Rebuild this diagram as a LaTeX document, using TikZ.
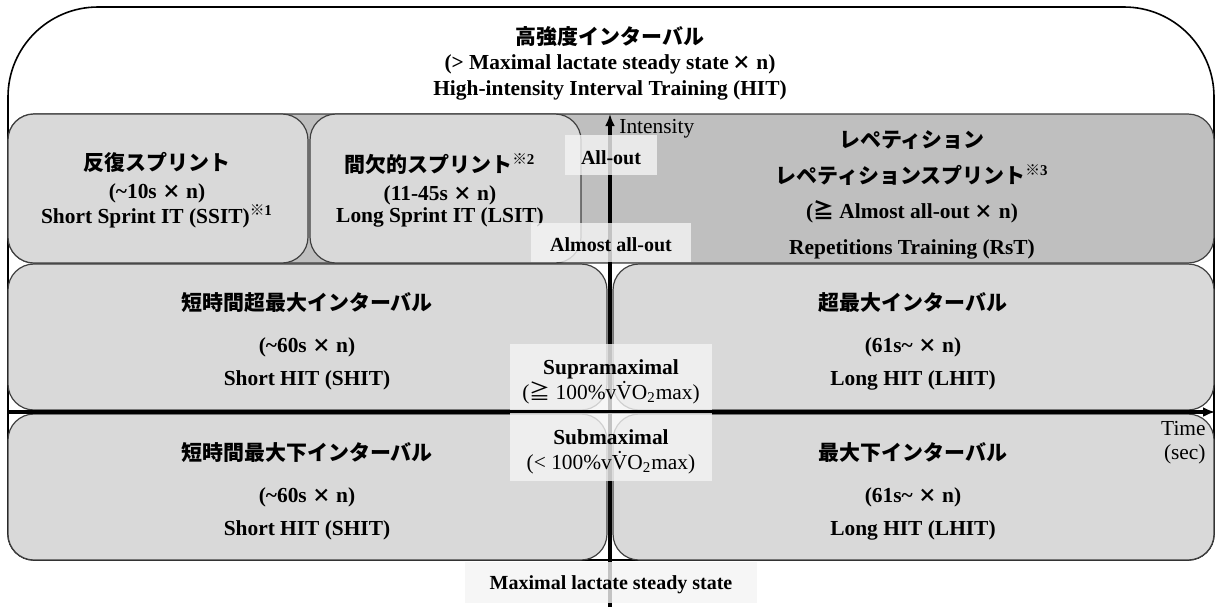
\documentclass[tikz,border=0pt]{standalone}
\usepackage{fontspec}
\setmainfont{Liberation Serif}
\newfontfamily\jp{Noto Sans CJK JP}[Scale=0.98]
\usepackage{xcolor}
\usepackage{tikz}
\usetikzlibrary{arrows.meta}

\definecolor{boxlight}{HTML}{D9D9D9}
\definecolor{boxdark}{HTML}{BFBFBF}
\definecolor{tagfill}{HTML}{F4F4F4}

\newcommand{\hitfont}[1]{\fontsize{10.7}{#1}\selectfont}
\newcommand{\kome}[1]{\textsuperscript{{\jp ※}#1}}
\newcommand{\batsu}{{\jp\fontsize{9.5}{9.5}\selectfont ×}}

\tikzset{
	hitbox/.style={draw=black!75, line width=0.6pt, rounded corners=13pt, fill=boxlight, inner sep=0pt},
	boxtext/.style={font=\bfseries\hitfont{11pt}, align=center},
	tagbox/.style={fill=tagfill, fill opacity=0.8, inner sep=0pt},
	axisline/.style={line width=1.6pt, -{Latex[length=6pt,width=5pt]}}
}

\begin{document}
\begin{tikzpicture}[x=0.5pt, y=-0.5pt, font=\hitfont{12pt}]

	\useasboundingbox (0,0) rectangle (1216,607);

	% outer frame
	\draw[line width=0.8pt] (8,300) [rounded corners=45pt] -- (8,7) -- (1214,7) -- (1214,300) [rounded corners=13pt] -- (1214,560) -- (8,560) -- (8,300);
	\node[font=\bfseries\hitfont{12.8pt}, align=center] (HIT) at (610,63) {{\jp 高強度インターバル}\\(> Maximal lactate steady state\,\batsu{} n)\\High-intensity Interval Training (HIT)};

	% boxes
	\node[hitbox, fill=boxdark, minimum width=603pt, minimum height=74.5pt] (RsT) at (611,188.5) {};
	\node[hitbox, minimum width=150pt, minimum height=74.5pt] (SSIT) at (158,188.5) {};
	\node[hitbox, minimum width=135.5pt, minimum height=74.5pt] (LSIT) at (445.5,188.5) {};
	\node[hitbox, minimum width=299.5pt, minimum height=73pt] (SHITsupra) at (307.5,337) {};
	\node[hitbox, minimum width=300.5pt, minimum height=73pt] (LHITsupra) at (913.5,337) {};
	\node[hitbox, minimum width=299.5pt, minimum height=73pt] (SHITsub) at (307.5,487) {};
	\node[hitbox, minimum width=300.5pt, minimum height=73pt] (LHITsub) at (913.5,487) {};

	\node[boxtext] (SSITtext) at (157,190) {{\jp 反復スプリント}\\[3pt](\textasciitilde10s \batsu{} n)\\Short Sprint IT (SSIT)\kome{1}};
	\node[boxtext] (LSITtext) at (440,190) {{\jp 間欠的スプリント}\kome{2}\\[3pt](11-45s \batsu{} n)\\Long Sprint IT (LSIT)};
	\node[boxtext, font=\bfseries\hitfont{17.8pt}] (RsTtext) at (912,195) {{\jp レペティション}\\{\jp レペティションスプリント}\kome{3}\\({\jp ≧} Almost all-out \batsu{} n)\\Repetitions Training (RsT)};
	\node[boxtext, font=\bfseries\hitfont{16.5pt}] (SHITsupratext) at (307,341.5) {{\jp 短時間超最大インターバル}\\[4.5pt](\textasciitilde60s \batsu{} n)\\Short HIT (SHIT)};
	\node[boxtext, font=\bfseries\hitfont{16.5pt}] (LHITsupratext) at (913,341.5) {{\jp 超最大インターバル}\\[4.5pt](61s\textasciitilde{} \batsu{} n)\\Long HIT (LHIT)};
	\node[boxtext, font=\bfseries\hitfont{16.5pt}] (SHITsubtext) at (307,491.5) {{\jp 短時間最大下インターバル}\\[4.5pt](\textasciitilde60s \batsu{} n)\\Short HIT (SHIT)};
	\node[boxtext, font=\bfseries\hitfont{16.5pt}] (LHITsubtext) at (913,491.5) {{\jp 最大下インターバル}\\[4.5pt](61s\textasciitilde{} \batsu{} n)\\Long HIT (LHIT)};

	% axes
	\coordinate (TimeStart) at (8,412);
	\coordinate (TimeEnd) at (1215,412);
	\coordinate (IntBottom) at (610,607);
	\coordinate (IntTop) at (610,114);
	\draw[axisline] (TimeStart) -- (TimeEnd);
	\draw[axisline] (IntBottom) -- (IntTop);
	\node[anchor=west, inner sep=0pt] (IntensityLabel) at (619,129) {Intensity};
	\node[anchor=north east, align=right, inner sep=0pt] (TimeLabel) at (1206,421) {Time\\(sec)};

	% intensity tags
	\node[tagbox, minimum width=46pt, minimum height=20pt] (AllOut) at (611,155) {};
	\node[tagbox, minimum width=80pt, minimum height=19.5pt] (AlmostAllOut) at (611,242.5) {};
	\node[tagbox, minimum width=101pt, minimum height=33pt] (Supra) at (611,377) {};
	\node[tagbox, minimum width=101pt, minimum height=34pt] (Sub) at (611,447) {};
	\node[tagbox, minimum width=146pt, minimum height=20.5pt] (MLSS) at (611,582.5) {};
	\node[font=\bfseries] (AllOuttext) at (611,158) {All-out};
	\node[font=\bfseries] (AlmostAllOuttext) at (611,245) {Almost all-out};
	\node[align=center, font=\hitfont{12.5pt}] (Supratext) at (611,382) {\textbf{Supramaximal}\\({\jp ≧} 100\%v\.{V}O\textsubscript{2}max)};
	\node[align=center, font=\hitfont{12.5pt}] (Subtext) at (611,452) {\textbf{Submaximal}\\(< 100\%v\.{V}O\textsubscript{2}max)};
	\node[font=\bfseries] (MLSStext) at (611,585) {Maximal lactate steady state};

\end{tikzpicture}
\end{document}
